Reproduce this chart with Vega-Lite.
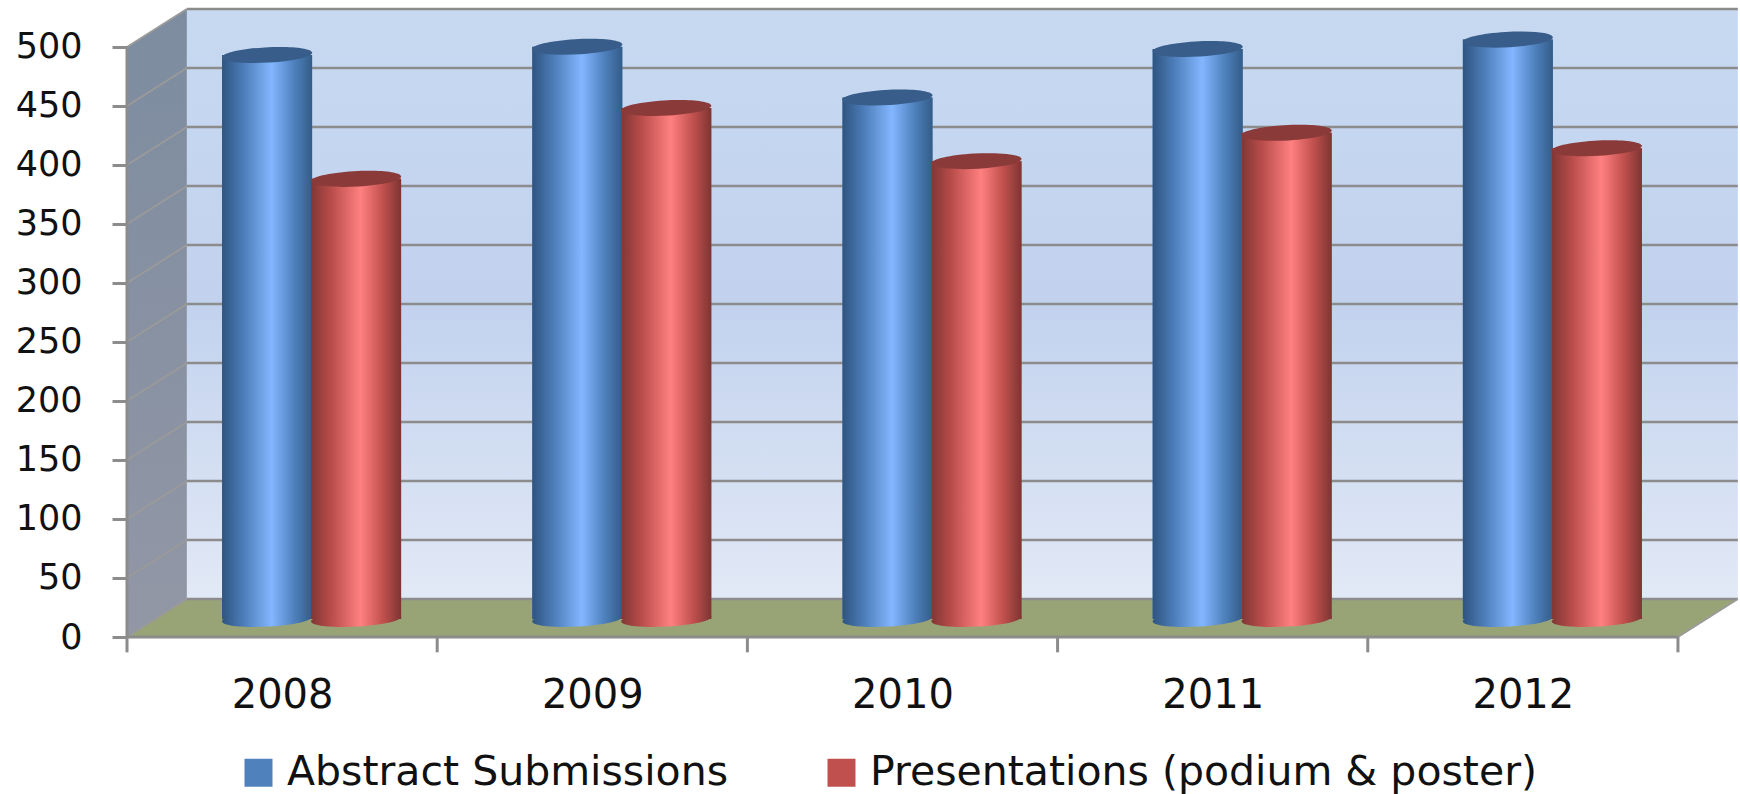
{"$schema":"https://vega.github.io/schema/vega-lite/v6.json","width":1613,"height":628,"autosize":{"type":"none"},"padding":{"left":127,"top":9,"right":0,"bottom":157},"background":"#ffffff","config":{"view":{"stroke":null},"font":"DejaVu Sans"},
"datasets":{
"rows":[{"year":2008,"series":"Abstract Submissions","value":478,"base":0},{"year":2009,"series":"Abstract Submissions","value":485,"base":0},{"year":2010,"series":"Abstract Submissions","value":442,"base":0},{"year":2011,"series":"Abstract Submissions","value":483,"base":0},{"year":2012,"series":"Abstract Submissions","value":491,"base":0},{"year":2008,"series":"Presentations (podium & poster)","value":373,"base":0},{"year":2009,"series":"Presentations (podium & poster)","value":433,"base":0},{"year":2010,"series":"Presentations (podium & poster)","value":388,"base":0},{"year":2011,"series":"Presentations (podium & poster)","value":412,"base":0},{"year":2012,"series":"Presentations (podium & poster)","value":399,"base":0}],
"wall":[{"x0":2007.693,"x1":2012.693,"y0":32.2,"y1":532.2}],
"side":[{"x":2007.5,"lo":0,"hi":500},{"x":2007.693,"lo":32.2,"hi":532.2}],
"floor":[{"x":2007.5,"lo":0,"hi":0},{"x":2007.693,"lo":0,"hi":32.2},{"x":2012.5,"lo":0,"hi":32.2},{"x":2012.693,"lo":32.2,"hi":32.2}],
"grid":[{"v":0,"back":32.2,"xl":2007.5,"xb":2007.693,"xr":2012.693,"xf":2012.5},{"v":50,"back":82.2,"xl":2007.5,"xb":2007.693,"xr":2012.693,"xf":2012.5},{"v":100,"back":132.2,"xl":2007.5,"xb":2007.693,"xr":2012.693,"xf":2012.5},{"v":150,"back":182.2,"xl":2007.5,"xb":2007.693,"xr":2012.693,"xf":2012.5},{"v":200,"back":232.2,"xl":2007.5,"xb":2007.693,"xr":2012.693,"xf":2012.5},{"v":250,"back":282.2,"xl":2007.5,"xb":2007.693,"xr":2012.693,"xf":2012.5},{"v":300,"back":332.2,"xl":2007.5,"xb":2007.693,"xr":2012.693,"xf":2012.5},{"v":350,"back":382.2,"xl":2007.5,"xb":2007.693,"xr":2012.693,"xf":2012.5},{"v":400,"back":432.2,"xl":2007.5,"xb":2007.693,"xr":2012.693,"xf":2012.5},{"v":450,"back":482.2,"xl":2007.5,"xb":2007.693,"xr":2012.693,"xf":2012.5},{"v":500,"back":532.2,"xl":2007.5,"xb":2007.693,"xr":2012.693,"xf":2012.5}],
"xticks":[{"t":2007.5,"lo":0,"hi":-13},{"t":2008.5,"lo":0,"hi":-13},{"t":2009.5,"lo":0,"hi":-13},{"t":2010.5,"lo":0,"hi":-13},{"t":2011.5,"lo":0,"hi":-13},{"t":2012.5,"lo":0,"hi":-13}]
},
"data":{"name":"rows"},
"layer":[
{"data":{"name":"wall"},"mark":{"type":"rect","fill":{"gradient":"linear","x1":0,"y1":0,"x2":0,"y2":1,"stops":[{"offset":0,"color":"#c7d9f1"},{"offset":0.5,"color":"#c2d2ee"},{"offset":1,"color":"#e2e9f6"}]}},"encoding":{"x":{"field":"x0","type":"quantitative","scale":{"domain":[2007.5,2012.7],"nice":false,"zero":false,"padding":0},"axis":{"values":[2008,2009,2010,2011,2012],"format":"d","title":null,"grid":false,"ticks":false,"domain":false,"labelFontSize":40,"labelFont":"DejaVu Sans","labelColor":"#111111","labelPadding":38,"zindex":1}},"x2":{"field":"x1"},"y":{"field":"y0","type":"quantitative","scale":{"domain":[0,532.2],"nice":false,"zero":false},"axis":{"values":[0,50,100,150,200,250,300,350,400,450,500],"title":null,"grid":false,"domain":false,"tickSize":15,"tickColor":"#8c8c8c","tickWidth":3,"labelFontSize":35,"labelFont":"DejaVu Sans","labelColor":"#111111","labelPadding":30,"zindex":1}},"y2":{"field":"y1"}}},
{"data":{"name":"side"},"mark":{"type":"area","fill":{"gradient":"linear","x1":0,"y1":0,"x2":0,"y2":1,"stops":[{"offset":0,"color":"#7d8ca0"},{"offset":1,"color":"#9297a5"}]}},"encoding":{"x":{"field":"x","type":"quantitative"},"y":{"field":"lo","type":"quantitative"},"y2":{"field":"hi"}}},
{"data":{"name":"floor"},"mark":{"type":"area","fill":"#98a475"},"encoding":{"x":{"field":"x","type":"quantitative"},"y":{"field":"lo","type":"quantitative"},"y2":{"field":"hi"}}},
{"data":{"name":"grid"},"mark":{"type":"rule","color":"#8c8c8c","strokeWidth":2.5,"yOffset":-38},"encoding":{"y":{"field":"v","type":"quantitative"},"x":{"field":"xb","type":"quantitative"},"x2":{"field":"xr"}}},
{"data":{"name":"grid"},"mark":{"type":"rule","color":"#9a9a9a","strokeWidth":2},"encoding":{"x":{"field":"xl","type":"quantitative"},"x2":{"field":"xb"},"y":{"field":"v","type":"quantitative"},"y2":{"field":"back"}}},
{"data":{"name":"grid"},"transform":[{"filter":"datum.v===0"}],"mark":{"type":"rule","color":"#9a9a9a","strokeWidth":2},"encoding":{"x":{"field":"xf","type":"quantitative"},"x2":{"field":"xr"},"y":{"field":"v","type":"quantitative"},"y2":{"field":"back"}}},
{"data":{"name":"grid"},"transform":[{"filter":"datum.v===0"}],"mark":{"type":"rule","color":"#8c8c8c","strokeWidth":3},"encoding":{"x":{"field":"xl","type":"quantitative"},"x2":{"field":"xf"},"y":{"field":"v","type":"quantitative"}}},
{"data":{"name":"side"},"transform":[{"filter":"datum.lo===0"}],"mark":{"type":"rule","color":"#8c8c8c","strokeWidth":3},"encoding":{"x":{"field":"x","type":"quantitative"},"y":{"field":"lo","type":"quantitative"},"y2":{"field":"hi"}}},
{"data":{"name":"xticks"},"mark":{"type":"rule","color":"#8c8c8c","strokeWidth":3},"encoding":{"x":{"field":"t","type":"quantitative"},"y":{"field":"lo","type":"quantitative"},"y2":{"field":"hi"}}},
{"transform":[{"filter":"datum.series==='Abstract Submissions'"}],"mark":{"type":"bar","orient":"vertical","width":90,"xOffset":-15,"yOffset":-18,"y2Offset":-18},"encoding":{"x":{"field":"year","type":"quantitative"},"y":{"field":"value","type":"quantitative","stack":null},"y2":{"field":"base"},"color":{"field":"series","type":"nominal","scale":{"domain":["Abstract Submissions","Presentations (podium & poster)"],"range":["#4f81bd","#c0504d"]},"legend":{"title":null,"orient":"none","legendX":111,"legendY":743,"direction":"horizontal","columns":2,"columnPadding":92,"symbolType":"square","symbolSize":784,"symbolStrokeWidth":0,"labelOffset":8,"labelFontSize":41,"labelFont":"DejaVu Sans","labelColor":"#111111","labelLimit":800,"padding":0}}}},
{"transform":[{"filter":"datum.series==='Abstract Submissions'"}],"mark":{"type":"point","filled":true,"opacity":1,"shape":"M-1,0.06A1,0.17 -3 1,0 1,-0.06A1,0.17 -3 1,0 -1,0.06Z","size":8100,"xOffset":-15,"yOffset":-18,"strokeWidth":0,"fill":{"gradient":"linear","x1":0,"y1":0,"x2":1,"y2":0,"stops":[{"offset":0,"color":"#2f5480"},{"offset":0.22,"color":"#4a7ab5"},{"offset":0.55,"color":"#82b6ff"},{"offset":0.8,"color":"#4f81bd"},{"offset":1,"color":"#335c88"}]}},"encoding":{"x":{"field":"year","type":"quantitative"},"y":{"field":"base","type":"quantitative"}}},
{"transform":[{"filter":"datum.series==='Abstract Submissions'"}],"mark":{"type":"bar","orient":"vertical","width":90,"xOffset":-15,"yOffset":-18,"y2Offset":-18,"fill":{"gradient":"linear","x1":0,"y1":0,"x2":1,"y2":0,"stops":[{"offset":0,"color":"#2f5480"},{"offset":0.22,"color":"#4a7ab5"},{"offset":0.55,"color":"#82b6ff"},{"offset":0.8,"color":"#4f81bd"},{"offset":1,"color":"#335c88"}]}},"encoding":{"x":{"field":"year","type":"quantitative"},"y":{"field":"value","type":"quantitative","stack":null},"y2":{"field":"base"}}},
{"transform":[{"filter":"datum.series==='Abstract Submissions'"}],"mark":{"type":"point","filled":true,"opacity":1,"shape":"M-1,0.06A1,0.17 -3 1,0 1,-0.06A1,0.17 -3 1,0 -1,0.06Z","size":8100,"xOffset":-15,"yOffset":-18,"strokeWidth":0,"fill":"#385d8a"},"encoding":{"x":{"field":"year","type":"quantitative"},"y":{"field":"value","type":"quantitative"}}},
{"transform":[{"filter":"datum.series!=='Abstract Submissions'"}],"mark":{"type":"bar","orient":"vertical","width":90,"xOffset":74,"yOffset":-18,"y2Offset":-18},"encoding":{"x":{"field":"year","type":"quantitative"},"y":{"field":"value","type":"quantitative","stack":null},"y2":{"field":"base"},"color":{"field":"series","type":"nominal"}}},
{"transform":[{"filter":"datum.series!=='Abstract Submissions'"}],"mark":{"type":"point","filled":true,"opacity":1,"shape":"M-1,0.06A1,0.17 -3 1,0 1,-0.06A1,0.17 -3 1,0 -1,0.06Z","size":8100,"xOffset":74,"yOffset":-18,"strokeWidth":0,"fill":{"gradient":"linear","x1":0,"y1":0,"x2":1,"y2":0,"stops":[{"offset":0,"color":"#803735"},{"offset":0.22,"color":"#b84c4a"},{"offset":0.55,"color":"#ff8080"},{"offset":0.8,"color":"#c0504d"},{"offset":1,"color":"#7d3533"}]}},"encoding":{"x":{"field":"year","type":"quantitative"},"y":{"field":"base","type":"quantitative"}}},
{"transform":[{"filter":"datum.series!=='Abstract Submissions'"}],"mark":{"type":"bar","orient":"vertical","width":90,"xOffset":74,"yOffset":-18,"y2Offset":-18,"fill":{"gradient":"linear","x1":0,"y1":0,"x2":1,"y2":0,"stops":[{"offset":0,"color":"#803735"},{"offset":0.22,"color":"#b84c4a"},{"offset":0.55,"color":"#ff8080"},{"offset":0.8,"color":"#c0504d"},{"offset":1,"color":"#7d3533"}]}},"encoding":{"x":{"field":"year","type":"quantitative"},"y":{"field":"value","type":"quantitative","stack":null},"y2":{"field":"base"}}},
{"transform":[{"filter":"datum.series!=='Abstract Submissions'"}],"mark":{"type":"point","filled":true,"opacity":1,"shape":"M-1,0.06A1,0.17 -3 1,0 1,-0.06A1,0.17 -3 1,0 -1,0.06Z","size":8100,"xOffset":74,"yOffset":-18,"strokeWidth":0,"fill":"#8a3a38"},"encoding":{"x":{"field":"year","type":"quantitative"},"y":{"field":"value","type":"quantitative"}}}
]}
